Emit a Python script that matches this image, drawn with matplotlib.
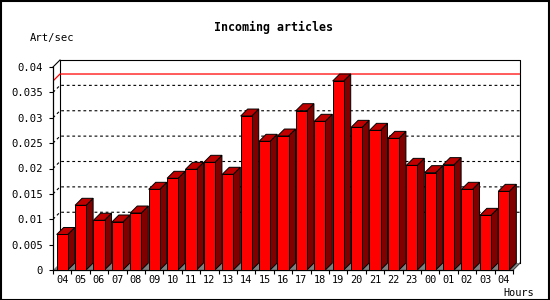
import matplotlib.pyplot as plt
from matplotlib.patches import Polygon, Rectangle
import numpy as np

hours = ['04', '05', '06', '07', '08', '09', '10', '11', '12', '13', '14', '15', '16',
         '17', '18', '19', '20', '21', '22', '23', '00', '01', '02', '03', '04']
art_sec = [0.0070, 0.01275, 0.0098, 0.00946, 0.01123, 0.0159, 0.01807, 0.01984, 0.02122,
           0.01886, 0.03034, 0.02536, 0.0264, 0.03139, 0.0293, 0.03724, 0.02811, 0.02752,
           0.02594, 0.02062, 0.01918, 0.02076, 0.0159, 0.01077, 0.0155]
y_ticks = [0, 0.005, 0.01, 0.015, 0.02, 0.025, 0.03, 0.035, 0.04]
y_labels = ['0', '0.005', '0.01', '0.015', '0.02', '0.025', '0.03', '0.035', '0.04']
grid_vals = [0.01, 0.015, 0.02, 0.025, 0.03, 0.035]

W, H = 550, 300
px_x = 18.4            # pixels per category
px_y = 203 / 0.04      # pixels per unit
dx = 7 / px_x          # depth offset in data units
dy = 7 / px_y
bw = 0.3               # half width of bar front
n = len(art_sec)
mono = 'DejaVu Sans Mono'

fig = plt.figure(figsize=(5.5, 3), dpi=100)
ax = fig.add_axes([53 / W, 30 / H, (520 - 53) / W, (270 - 60) / H])
ax.set_xlim(-0.5, -0.5 + (520 - 53) / px_x)
ax.set_ylim(0, (270 - 60) / px_y)
ax.patch.set_visible(False)
for s in ['top', 'right']:
    ax.spines[s].set_visible(False)
ax.spines['left'].set_bounds(0, 0.04)
ax.spines['bottom'].set_bounds(-0.5, n - 0.5)
for s in ['left', 'bottom']:
    ax.spines[s].set_linewidth(0.9)

ax.set_yticks(y_ticks)
ax.set_yticklabels(y_labels, family=mono, fontsize=7.6)
ax.set_xticks(np.arange(n + 1) - 0.5)
ax.set_xticklabels([])
ax.set_xticks(np.arange(n), minor=True)
ax.set_xticklabels(hours, minor=True, family=mono, fontsize=7.4)
ax.tick_params(axis='both', which='major', direction='out', length=2.6, width=0.8)
ax.tick_params(axis='y', pad=4.5)
ax.tick_params(axis='x', which='minor', length=0, pad=3.5)

x0 = -0.5
x1 = n - 0.5
xr = x1 + dx
ytop = 0.04
lw = 0.8

# back wall and depth edges
ax.plot([x0 + dx, x0 + dx, xr, xr], [dy, ytop + dy, ytop + dy, dy], color='black', lw=lw,
        zorder=1, clip_on=False)
ax.plot([x0, x0 + dx], [ytop, ytop + dy], color='black', lw=lw, zorder=1, clip_on=False)
ax.plot([x1, xr], [0, dy], color='black', lw=lw, zorder=1, clip_on=False)

# grid lines on back wall
for v in grid_vals:
    ax.plot([x0, x0 + dx, xr], [v, v + dy, v + dy], color='black', lw=0.8,
            linestyle=(0, (2.5, 2.5)), zorder=1)

# max line
vmax = max(art_sec)
ax.plot([x0, x0 + dx, xr], [vmax, vmax + dy, vmax + dy], color='red', lw=0.9, zorder=2)

# floor
ax.add_patch(Polygon([[x0, 0], [x1, 0], [xr, dy], [x0 + dx, dy]], closed=True,
                     facecolor='#808080', edgecolor='none', zorder=2))

# bars
for i, v in enumerate(art_sec):
    l, r = i - bw, i + bw
    side = Polygon([[r, 0], [r + dx, dy], [r + dx, v + dy], [r, v]], closed=True,
                   facecolor='#800000', edgecolor='black', lw=0.7, zorder=3)
    top = Polygon([[l, v], [r, v], [r + dx, v + dy], [l + dx, v + dy]], closed=True,
                  facecolor='#c00000', edgecolor='black', lw=0.7, zorder=3)
    front = Rectangle((l, 0), 2 * bw, v, facecolor='#ff0000', edgecolor='black',
                      lw=0.7, zorder=4)
    ax.add_patch(side)
    ax.add_patch(top)
    ax.add_patch(front)

fig.text(273.5 / W, 1 - 27.5 / H, 'Incoming articles', ha='center', va='center',
         family=mono, fontsize=8.4, fontweight='bold')
fig.text(30 / W, 1 - 37.5 / H, 'Art/sec', ha='left', va='center', family=mono, fontsize=7.6)
fig.text(534 / W, 1 - 292.5 / H, 'Hours', ha='right', va='center', family=mono, fontsize=7.4)

fig.patches.append(Rectangle((0.5 / W, 0.5 / H), 1 - 1.5 / W, 1 - 1.5 / H,
                             transform=fig.transFigure, fill=False, edgecolor='black', lw=1.5))

fig.savefig('out.png', dpi=100)
